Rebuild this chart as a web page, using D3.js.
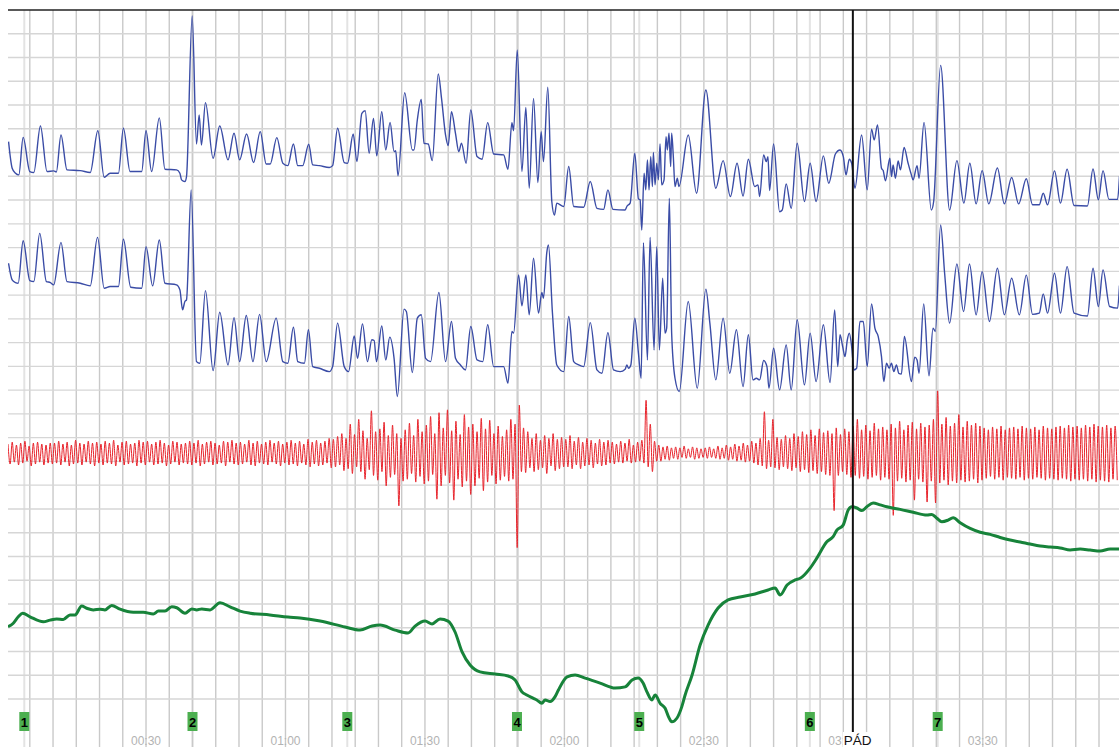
<!DOCTYPE html>
<html>
<head>
<meta charset="utf-8">
<script src="https://cdn.jsdelivr.net/npm/d3@7"></script>
<style>
  body { margin: 0; background: #fff; }
  svg { display: block; }
</style>
</head>
<body>
<svg id="canvas" width="1119" height="747"></svg>
<script>
// time in seconds, values in grid divisions (0 = bottom grid line)
let upperBreath = [
  [0.43,23.46],[1.21,22.34],[1.93,22.13],[2.64,22.06],[3.57,23.64],[5.0,22.2],[5.86,22.16],[7.29,24.12],[8.71,22.2],[10.14,22.23],[10.71,22.18],[11.71,23.74],[13.0,22.27],[15.86,22.24],[18.0,22.16],[19.64,23.92],[21.0,21.96],[22.29,22.13],[24.07,22.13],[25.14,24.02],[26.57,22.2],[29.07,22.2],[30.0,23.92],[31.21,22.2],[32.86,24.46],[34.07,22.3],[36.57,22.27],[37.29,22.13],[37.64,21.85],[38.36,21.78],[38.71,21.99],[39.93,28.75],[40.86,23.36],[41.43,24.58],[41.93,23.32],[42.79,25.1],[44.43,22.76],[45.86,24.12],[47.64,22.69],[48.93,23.81],[50.14,22.69],[51.64,23.78],[53.14,22.58],[54.57,23.88],[55.86,22.52],[56.71,22.52],[58.14,23.63],
  [59.43,22.55],[60.5,22.45],[61.71,23.36],[62.64,22.45],[63.71,22.45],[65.0,23.35],[65.86,22.48],[67.29,22.45],[69.43,22.37],[70.14,22.45],[71.21,24.02],[72.64,22.58],[73.36,22.55],[74.57,23.78],[75.36,22.62],[76.43,24.65],[77.14,24.76],[78.0,22.97],[78.93,24.44],[79.64,22.86],[80.71,24.72],[81.57,23.11],[82.5,24.27],[83.36,23.04],[83.71,23.08],[84.21,22.02],[85.64,25.52],[87.29,23.11],[87.64,23.11],[88.36,24.37],[89.21,25.24],[89.79,23.39],[90.71,23.36],[91.57,22.66],[92.86,26.31],[93.57,25.28],[94.43,23.74],[95.0,23.29],[95.71,24.72],[96.57,23.81],[97.29,23.04],[97.86,23.39],[98.86,22.55],[99.86,24.79],[101.21,22.83],[102.29,22.72],[103.5,24.26],[104.79,22.94],[106.93,22.9],[107.86,22.3],[108.71,24.26],[109.07,23.92],[109.86,27.32],[110.86,22.2],[111.71,24.9],[112.43,21.5],[113.36,25.28],[114.29,21.74],[115.0,23.88],[115.5,22.62],[116.43,25.75],[117.29,20.94],[117.86,20.37],[118.36,20.87],
  [119.86,20.73],[120.93,22.41],[122.0,20.73],[124.14,20.7],[125.57,21.78],[127.0,20.65],[128.43,20.61],[129.36,21.43],[130.43,20.61],[133.07,20.58],[133.43,20.73],[134.14,20.87],[135.14,22.97],[135.93,21.05],[136.29,21.01],[136.64,19.74],[137.14,22.13],[137.5,21.43],[137.86,22.69],[138.21,21.43],[138.57,22.83],[138.93,21.57],[139.14,23.0],[139.5,21.64],[139.86,22.55],[140.21,21.85],[140.57,23.36],[140.93,21.64],[141.43,21.85],[141.86,23.67],[142.14,23.11],[142.5,23.81],[142.86,22.41],[143.07,23.81],[143.43,22.83],[143.79,21.57],[144.29,21.92],[144.64,21.57],[146.64,23.74],[148.43,21.29],[150.43,25.63],[152.57,21.5],[154.14,22.66],[155.71,21.15],[157.14,22.55],[158.43,21.17],[159.57,22.72],[160.93,21.57],[161.64,21.64],[162.0,21.15],[162.86,22.9],[163.43,22.62],[163.79,22.83],[164.14,21.4],[165.0,23.36],[166.29,20.51],[166.86,20.58],[167.71,21.68],[168.79,20.65],[170.07,23.39],[171.64,20.94],[172.86,22.55],[174.14,20.94],[175.71,22.86],[176.86,21.71],[178.29,22.94],
  [179.29,23.11],[180.0,22.83],[180.57,22.06],[181.29,22.72],[181.79,22.55],[182.5,21.5],[183.93,23.74],[185.14,21.43],[186.07,23.98],[186.64,23.53],[187.36,24.16],[188.21,22.34],[188.57,22.24],[189.07,21.81],[190.0,22.76],[190.36,21.99],[190.71,22.48],[191.21,21.92],[191.79,22.65],[192.29,22.27],[193.07,23.21],[193.93,22.55],[194.64,22.06],[195.0,21.85],[195.86,22.45],[196.29,21.92],[197.36,24.27],[198.93,20.58],[199.43,20.94],[200.93,26.67],[202.86,20.58],[204.43,22.66],[205.93,20.87],[207.21,22.55],[208.57,20.84],[209.86,22.24],[211.29,20.84],[213.14,22.35],[214.64,20.84],[216.21,21.95],[217.71,20.84],[219.36,21.9],[220.71,20.8],[222.14,20.8],[223.0,21.29],[223.93,20.8],[225.43,22.23],[226.71,20.87],[228.14,22.3],[229.64,20.77],[232.5,20.75],[233.71,22.31],[234.86,21.01],[235.86,22.24],[237.14,21.03],[239.0,21.03],[239.4,22.0]
];

let lowerBreath = [
  [0.43,18.34],[1.21,17.64],[1.93,17.53],[2.5,17.5],[3.57,19.29],[5.0,17.61],[5.86,17.57],[7.14,19.6],[8.57,17.57],[9.43,17.53],[10.14,17.43],[11.71,19.22],[13.0,17.57],[15.86,17.5],[18.0,17.39],[19.57,19.43],[21.0,17.29],[22.29,17.36],[24.07,17.36],[25.14,19.35],[26.71,17.33],[29.07,17.29],[30.0,19.04],[31.43,17.39],[32.86,19.32],[34.07,17.5],[36.57,17.43],[37.29,17.22],[37.86,16.38],[38.36,16.73],[38.71,16.8],[39.71,21.43],[40.86,14.2],[41.57,14.13],[42.79,17.19],[44.43,13.82],[45.86,16.28],[47.64,14.06],[48.93,16.05],[50.14,14.2],[51.57,16.14],[53.0,14.2],[54.43,16.19],[55.86,14.2],[58.0,16.03],
  [59.43,14.2],[60.5,14.13],[61.71,15.65],[62.64,14.2],[64.07,14.13],[64.93,15.54],[65.86,13.99],[67.29,13.92],[69.43,13.78],[70.14,13.99],[71.21,15.82],[72.64,13.99],[73.57,13.78],[74.79,15.28],[75.5,14.34],[76.57,15.79],[77.64,14.2],[78.57,15.12],[79.07,15.09],[79.57,14.2],[80.71,15.7],[81.57,14.27],[82.43,15.23],[83.36,14.34],[84.07,12.73],[85.5,16.41],[86.0,16.31],[87.29,13.74],[88.36,16.03],[89.21,16.17],[90.14,14.34],[91.21,14.2],[93.0,17.11],[94.43,14.2],[95.71,15.89],[96.57,14.34],[97.64,14.06],[98.71,13.85],[99.86,15.68],[101.21,14.27],[102.43,14.2],[103.5,15.75],[104.79,13.99],[106.93,13.99],[107.86,13.29],[108.71,15.47],[109.07,15.4],[110.14,17.85],[110.86,16.55],[111.71,17.85],[112.43,16.17],[113.36,18.55],[114.43,16.24],[115.14,17.11],[115.5,16.87],[116.21,18.79],[116.57,19.11],[117.43,16.24],[118.36,14.06],
  [119.86,13.78],[120.93,16.1],[122.0,14.2],[123.07,14.06],[124.14,13.99],[125.57,15.84],[127.0,13.85],[128.07,13.71],[129.36,15.42],[130.57,13.85],[132.0,13.78],[133.07,13.88],[133.43,14.06],[133.79,13.92],[134.29,14.06],[135.14,16.03],[135.93,14.55],[136.5,13.5],[137.0,19.21],[137.86,14.27],[138.43,19.43],[139.29,14.69],[139.86,19.04],[140.43,14.69],[141.14,17.71],[141.64,15.4],[142.0,15.61],[142.57,21.08],[143.07,15.4],[143.79,13.5],[144.71,12.94],[146.64,16.73],[148.57,13.08],[150.43,17.25],[151.29,15.82],[152.57,13.43],[154.14,16.03],[155.57,13.71],[157.0,15.54],[158.43,13.15],[159.57,15.33],[160.57,13.43],[161.29,13.5],[162.0,13.43],[162.86,14.25],[163.57,13.99],[164.0,13.08],[165.0,14.76],[166.29,13.01],[167.71,14.9],[168.79,13.01],[170.07,15.96],[171.64,13.22],[172.86,15.4],[174.14,13.36],[175.71,15.75],[177.14,13.32],[178.14,16.38],[178.79,13.99],
  [179.29,15.33],[179.86,14.83],[180.36,14.41],[180.86,15.12],[181.29,15.4],[181.79,14.83],[182.29,13.85],[182.86,13.92],[183.57,15.89],[184.29,15.89],[185.14,13.99],[186.07,16.63],[186.79,15.61],[187.5,15.26],[188.21,14.41],[188.71,13.36],[189.29,14.13],[189.86,13.92],[190.36,14.13],[190.86,13.78],[191.43,14.06],[191.93,13.71],[192.5,13.68],[193.14,15.26],[194.64,13.36],[195.36,14.39],[195.86,14.27],[196.29,13.71],[197.29,16.63],[198.43,13.6],[199.29,15.61],[199.79,15.47],[200.93,19.95],[201.79,17.92],[202.86,15.82],[204.43,18.31],[205.86,16.31],[207.14,18.31],[208.57,16.17],[209.86,17.99],[211.43,15.89],[213.14,18.13],[214.64,16.17],[216.21,17.71],[217.86,16.17],[219.36,17.84],[220.71,16.19],[222.14,16.24],[223.0,17.05],[223.93,16.24],[225.43,17.92],[226.71,16.24],[228.14,18.2],[229.64,16.24],[232.5,16.12],[233.71,18.13],[234.86,16.52],[235.86,18.06],[237.29,16.52],[239.0,16.45],[239.4,17.4]
];

// red channel: own units around its baseline, one sample every redStep seconds
let redStart = 0.31;
let redStep = 0.4545;
let redBase = 10.37;
let redSamples = [
  18,-24,22,-20,16,-26,20,-22,24,-18,14,-28,20,-24,22,-20,18,-26,16,-22,20,-24,
  20,-22,24,-26,18,-20,22,-28,16,-24,26,-22,20,-26,18,-20,24,-24,20,-28,22,-22,
  18,-26,24,-22,20,-24,26,-28,16,-20,22,-26,24,-24,18,-22,20,-28,26,-22,22,-26,
  24,-20,18,-26,22,-24,26,-22,20,-28,16,-24,24,-20,22,-26,18,-22,20,-24,24,-26,
  20,-22,26,-28,18,-24,22,-20,24,-26,20,-24,16,-22,24,-28,22,-20,26,-24,20,-26,
  22,-24,18,-20,26,-26,20,-28,24,-22,18,-24,22,-26,26,-20,20,-24,24,-28,18,-22,
  22,-26,26,-24,20,-28,24,-22,18,-26,28,-30,22,-24,26,-28,20,-26,24,-22,30,-32,
  28,-30,34,-26,40,-38,30,-34,60,-44,38,-30,70,-40,46,-56,30,-36,88,-48,44,-58,
  50,-40,64,-70,36,-52,58,-46,40,-112,30,-60,48,-56,62,-44,36,-62,70,-50,44,-66,
  58,-60,76,-46,40,-98,84,-70,52,-48,90,-64,46,-100,66,-56,38,-72,80,-60,54,-88,
  60,-70,44,-54,72,-80,50,-62,68,-48,40,-66,56,-58,34,-50,48,-60,70,-56,60,-200,
  100,-40,52,-42,44,-32,30,-40,40,-36,26,-32,36,-44,30,-28,40,-38,28,-34,32,-30,
  28,-30,36,-34,24,-26,32,-34,22,-28,30,-26,26,-32,20,-24,28,-28,22,-26,26,-22,
  22,-24,18,-20,24,-22,20,-18,28,-22,16,-20,22,-18,26,-22,110,-30,60,-40,24,-18,
  16,-18,12,-14,14,-16,10,-12,12,-14,10,-10,14,-12,8,-10,12,-14,10,-12,8,-10,
  10,-12,12,-10,8,-12,14,-14,10,-12,16,-16,12,-14,18,-18,14,-16,20,-20,16,-18,
  24,-22,20,-26,30,-28,86,-34,26,-30,70,-32,32,-36,28,-30,36,-34,30,-38,40,-32,
  34,-40,44,-36,38,-42,48,-38,36,-44,50,-40,42,-46,46,-48,40,-122,52,-48,38,-40,
  50,-46,44,-52,56,-48,70,-54,48,-50,58,-56,46,-52,62,-48,50,-58,54,-52,48,-56,
  60,-132,52,-60,66,-54,48,-62,58,-58,64,-100,50,-56,62,-62,54,-104,58,-60,70,-106,
  130,-64,60,-58,74,-68,56,-60,62,-64,80,-58,54,-62,66,-60,58,-56,62,-64,56,-58,
  52,-54,48,-50,54,-56,50,-52,56,-58,48,-52,52,-54,54,-56,50,-52,56,-58,52,-54,
  50,-56,54,-52,48,-54,56,-58,52,-54,50,-56,54,-58,56,-54,52,-56,58,-60,54,-56,
  56,-58,52,-56,58,-60,54,-56,60,-62,56,-58,54,-60,58,-62,52,-56,56,-58
];

let greenCurve = [
  [0.31,3.04],[1.45,3.19],[2.53,3.46],[3.47,3.61],[5.05,3.46],[7.91,3.25],[9.35,3.32],[10.79,3.37],[12.21,3.35],[13.65,3.54],[14.73,3.54],[16.17,3.91],[17.24,3.82],[18.66,3.75],[20.11,3.78],[21.18,3.75],[22.62,3.94],[24.41,3.78],[27.27,3.65],[29.42,3.65],[31.57,3.58],[32.65,3.7],[34.09,3.7],[35.53,3.88],[36.61,3.84],[38.39,3.61],[39.84,3.79],[40.91,3.75],[41.99,3.79],[43.77,3.75],[45.92,4.05],[48.08,3.88],[50.23,3.7],[52.38,3.61],
  [56.64,3.54],[60.55,3.45],[63.14,3.41],[67.45,3.28],[72.82,3.03],[76.04,2.9],[78.63,3.07],[80.35,3.11],[83.58,2.9],[86.37,2.78],[87.88,3.07],[90.03,3.28],[91.53,3.16],[93.25,3.37],[94.97,3.28],[96.48,2.82],[97.99,1.98],[99.71,1.43],[101.86,1.14],[105.09,1.05],[107.89,0.97],[109.39,0.8],[110.84,0.31],[111.91,0.17],[113.33,0.03],[114.06,-0.04],[115.14,-0.18],[115.85,-0.04],[116.92,-0.11],[118.0,0.1],[118.71,0.38],[120.58,0.93],[122.3,1.01],[124.45,0.88],[127.68,0.67],[130.91,0.46],[133.06,0.51],[134.56,0.8],[135.85,0.88],[136.93,0.67],[137.73,0.31],[138.81,-0.04],[139.52,0.17],[140.59,-0.18],[141.67,-0.39],[142.38,-0.74],[143.11,-0.96],[144.19,-0.81],[145.26,-0.32],[145.97,0.17],[147.47,1.01],[149.19,2.27],[150.91,3.11],[153.06,3.83],[155.21,4.17],[157.79,4.29],[161.02,4.42],[163.82,4.59],[165.32,4.67],[166.4,4.38],[167.9,4.8],[169.62,5.01],
  [170.71,5.08],[172.86,5.51],[174.3,5.93],[176.45,6.62],[177.81,6.83],[178.61,7.11],[179.96,7.32],[181.04,7.95],[181.83,8.09],[182.91,8.04],[183.98,7.93],[185.06,8.09],[186.41,8.25],[187.92,8.17],[189.36,8.09],[192.22,7.98],[195.02,7.86],[197.97,7.74],[199.04,7.77],[200.12,7.61],[201.19,7.46],[202.55,7.53],[203.62,7.63],[205.13,7.42],[207.28,7.18],[209.43,7.02],[211.58,6.93],[213.73,6.8],[215.89,6.69],[218.04,6.61],[220.19,6.52],[222.34,6.44],[224.49,6.4],[226.64,6.36],[228.79,6.27],[230.94,6.31],[233.09,6.27],[235.24,6.23],[237.39,6.31],[239.32,6.31]
];

let markerNames = ["1", "2", "3", "4", "5", "6", "7"];
let markerTimes = [3.82, 40.0, 73.3, 109.8, 136.1, 172.8, 200.3];
let eventName = "PÁD";
let eventTime = 182.05;
let timeTicks = [30, 60, 90, 120, 150, 180, 210];

let chartWidth = 1119;
let chartHeight = 747;
let plotLeft = 8;
let plotTop = 10;

let canvas = d3.select("#canvas");

let xScale = d3.scaleLinear().domain([0, 239.3]).range([6.55, 1119]);
let yScale = d3.scaleLinear().domain([0, 29]).range([699, plotTop]);
let redScale = d3
  .scaleLinear()
  .domain([-100, 100])
  .range([yScale(redBase - 2), yScale(redBase + 2)]);

canvas.append("rect").attr("width", chartWidth).attr("height", chartHeight).attr("fill", "#fff");

canvas
  .append("clipPath")
  .attr("id", "plot-clip")
  .append("rect")
  .attr("x", plotLeft)
  .attr("y", 0)
  .attr("width", chartWidth - plotLeft)
  .attr("height", chartHeight);

// marker guide lines (light)
canvas
  .selectAll(".marker-line")
  .data(markerTimes)
  .enter()
  .append("line")
  .attr("class", "marker-line")
  .attr("x1", (t) => xScale(t))
  .attr("x2", (t) => xScale(t))
  .attr("y1", plotTop)
  .attr("y2", chartHeight)
  .attr("stroke", "#e3e3e3")
  .attr("stroke-width", 2);

// grid
let gridTimes = d3.range(5, 239, 5);
canvas
  .selectAll(".vgrid")
  .data(gridTimes)
  .enter()
  .append("line")
  .attr("class", "vgrid")
  .attr("x1", (t) => xScale(t))
  .attr("x2", (t) => xScale(t))
  .attr("y1", plotTop)
  .attr("y2", chartHeight)
  .attr("stroke", "#c9c9c9")
  .attr("stroke-width", 1.4);

canvas
  .selectAll(".hgrid")
  .data(d3.range(0, 29))
  .enter()
  .append("line")
  .attr("class", "hgrid")
  .attr("x1", plotLeft)
  .attr("x2", chartWidth)
  .attr("y1", (v) => yScale(v))
  .attr("y2", (v) => yScale(v))
  .attr("stroke", "#d6d6d6")
  .attr("stroke-width", 1.4);

canvas
  .append("line")
  .attr("x1", plotLeft)
  .attr("x2", chartWidth)
  .attr("y1", yScale(29))
  .attr("y2", yScale(29))
  .attr("stroke", "#222")
  .attr("stroke-width", 1.5);

// time labels
let fmt = (s) => d3.format("02")(Math.floor(s / 60)) + ":" + d3.format("02")(s % 60);
canvas
  .selectAll(".tick-label")
  .data(timeTicks)
  .enter()
  .append("text")
  .attr("class", "tick-label")
  .attr("x", (t) => xScale(t))
  .attr("y", 744.5)
  .attr("text-anchor", "middle")
  .attr("font-family", "Liberation Sans, Arial, sans-serif")
  .attr("font-size", 12)
  .attr("fill", "#b3b3b3")
  .text((t) => fmt(t));

let traces = canvas.append("g").attr("clip-path", "url(#plot-clip)");

let redLine = d3
  .line()
  .x((d, i) => xScale(redStart + i * redStep))
  .y((d) => redScale(d))
  .curve(d3.curveMonotoneX);

traces
  .append("path")
  .datum(redSamples)
  .attr("d", redLine)
  .attr("fill", "none")
  .attr("stroke", "#e8232b")
  .attr("stroke-width", 1);

let pairLine = d3
  .line()
  .x((d) => xScale(d[0]))
  .y((d) => yScale(d[1]))
  .curve(d3.curveMonotoneX);

[upperBreath, lowerBreath].forEach((series) => {
  traces
    .append("path")
    .datum(series)
    .attr("d", pairLine)
    .attr("fill", "none")
    .attr("stroke", "#3a4ca6")
    .attr("stroke-width", 1.4);
});

traces
  .append("path")
  .datum(greenCurve)
  .attr("d", pairLine)
  .attr("fill", "none")
  .attr("stroke", "#17833a")
  .attr("stroke-width", 3)
  .attr("stroke-linejoin", "round");

// event line
canvas
  .append("line")
  .attr("x1", xScale(eventTime))
  .attr("x2", xScale(eventTime))
  .attr("y1", plotTop)
  .attr("y2", chartHeight)
  .attr("stroke", "#111")
  .attr("stroke-width", 2);

// markers
let marker = canvas
  .selectAll(".marker")
  .data(markerTimes)
  .enter()
  .append("g")
  .attr("class", "marker")
  .attr("transform", (t) => "translate(" + xScale(t) + ",712)");

marker
  .append("rect")
  .attr("x", -5)
  .attr("y", 0)
  .attr("width", 10)
  .attr("height", 19)
  .attr("fill", "#4caf50");

marker
  .append("text")
  .attr("x", 0)
  .attr("y", 15)
  .attr("text-anchor", "middle")
  .attr("font-family", "Liberation Sans, Arial, sans-serif")
  .attr("font-weight", "bold")
  .attr("font-size", 13)
  .attr("fill", "#000")
  .text((t, i) => markerNames[i]);

// event label, its white box hides the end of the 03:00 tick
let eventLabel = canvas
  .append("g")
  .attr("transform", "translate(" + (xScale(eventTime) - 9) + ",745)");
eventLabel
  .append("rect")
  .attr("x", -1)
  .attr("y", -13)
  .attr("width", 30)
  .attr("height", 15)
  .attr("fill", "#fff");
eventLabel
  .append("text")
  .attr("x", 0)
  .attr("y", 0)
  .attr("font-family", "Liberation Sans, Arial, sans-serif")
  .attr("font-size", 13.5)
  .attr("fill", "#111")
  .text(eventName);
</script>
</body>
</html>
